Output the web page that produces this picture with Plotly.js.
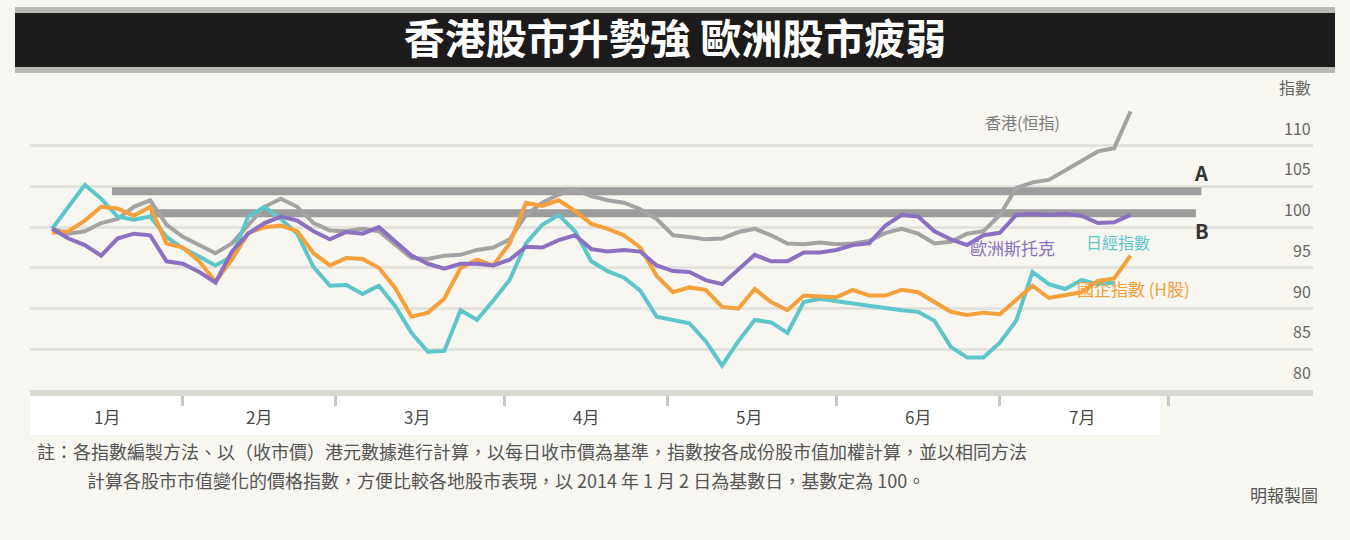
<!DOCTYPE html>
<html>
<head>
<meta charset="utf-8">
<script src="https://cdn.plot.ly/plotly-3.0.1.min.js"></script>
<style>
  html, body { margin: 0; padding: 0; background: #f7f6f1; }
  #chart { width: 1350px; height: 540px; }
</style>
</head>
<body>
<div id="chart"></div>
<script>
const dates = [
  "2014-01-08", "2014-01-11", "2014-01-14", "2014-01-17", "2014-01-20", "2014-01-23", "2014-01-26", "2014-01-29",
  "2014-02-01", "2014-02-04", "2014-02-07", "2014-02-10", "2014-02-13", "2014-02-16", "2014-02-19", "2014-02-22",
  "2014-02-25", "2014-02-28", "2014-03-03", "2014-03-06", "2014-03-09", "2014-03-12", "2014-03-15", "2014-03-18",
  "2014-03-21", "2014-03-24", "2014-03-27", "2014-03-30", "2014-04-02", "2014-04-05", "2014-04-08", "2014-04-11",
  "2014-04-14", "2014-04-17", "2014-04-20", "2014-04-23", "2014-04-26", "2014-04-29", "2014-05-02", "2014-05-05",
  "2014-05-08", "2014-05-11", "2014-05-14", "2014-05-17", "2014-05-20", "2014-05-23", "2014-05-26", "2014-05-29",
  "2014-06-01", "2014-06-04", "2014-06-07", "2014-06-10", "2014-06-13", "2014-06-16", "2014-06-19", "2014-06-22",
  "2014-06-25", "2014-06-28", "2014-07-01", "2014-07-04", "2014-07-07", "2014-07-10", "2014-07-13", "2014-07-16",
  "2014-07-19", "2014-07-22", "2014-07-25",
];

// 香港 (grey)
const hkValues = [
  99.8, 99.2, 99.5, 100.5, 101.0, 102.5, 103.3, 100.3,
  98.8, 97.8, 96.8, 98.0, 100.3, 102.5, 103.5, 102.5,
  100.5, 99.6, 99.5, 99.8, 99.5, 97.8, 96.2, 96.1,
  96.5, 96.6, 97.2, 97.5, 98.5, 101.5, 103.0, 104.0,
  104.6, 103.8, 103.3, 103.0, 102.2, 101.0, 99.0, 98.8,
  98.5, 98.6, 99.4, 99.8, 99.0, 98.0, 97.9, 98.1,
  97.9, 98.0, 98.3, 99.3, 99.8, 99.2, 98.0, 98.2,
  99.2, 99.5, 101.5, 104.8, 105.5, 105.8, 107.0, 108.2,
  109.3, 109.7, 114.2,
];

// 歐洲 (purple)
const euroValues = [
  99.8, 98.6, 97.8, 96.5, 98.6, 99.2, 99.0, 95.8,
  95.5, 94.5, 93.2, 97.0, 99.2, 100.5, 101.3, 100.8,
  99.5, 98.5, 99.4, 99.2, 100.0, 98.3, 96.5, 95.5,
  94.9, 95.5, 95.5, 95.3, 96.0, 97.6, 97.5, 98.4,
  99.0, 97.3, 97.0, 97.2, 97.0, 95.3, 94.6, 94.5,
  93.5, 93.0, 94.8, 96.6, 95.8, 95.8, 96.9, 96.9,
  97.2, 97.8, 98.0, 100.2, 101.5, 101.3, 99.5, 98.5,
  97.8, 99.0, 99.3, 101.5, 101.6, 101.5, 101.6, 101.4,
  100.5, 100.6, 101.5,
];

// 日本 (teal)
const japanValues = [
  99.8, 102.5, 105.2, 103.5, 101.3, 100.9, 101.3, 98.8,
  97.4, 96.4, 95.3, 96.4, 101.3, 102.5, 101.0, 99.2,
  95.1, 92.8, 92.9, 91.8, 92.8, 90.3, 87.0, 84.7,
  84.8, 89.8, 88.6, 91.0, 93.5, 98.0, 100.3, 101.5,
  99.5, 95.8, 94.6, 93.8, 92.2, 89.0, 88.6, 88.2,
  86.0, 83.0, 86.0, 88.6, 88.3, 87.0, 90.8, 91.2,
  90.9, 90.6, 90.4, 90.0, 89.8, 89.6, 88.5, 85.3,
  84.0, 84.0, 85.8, 88.5, 94.5, 93.0, 92.4, 93.5,
  93.0, 93.2, null,
];

// 國企 (orange)
const hshareValues = [
  99.3, 99.5, 100.8, 102.5, 102.3, 101.4, 102.5, 98.0,
  97.5, 95.8, 93.3, 96.0, 99.3, 100.0, 100.2, 99.5,
  96.8, 95.3, 96.2, 96.1, 95.0, 92.5, 89.0, 89.5,
  91.2, 95.0, 96.0, 95.3, 98.0, 103.0, 102.6, 103.3,
  102.0, 100.4, 99.8, 99.0, 97.5, 94.0, 92.0, 92.6,
  92.3, 90.2, 90.0, 92.4, 90.8, 89.8, 91.6, 91.5,
  91.4, 92.3, 91.6, 91.6, 92.3, 92.0, 90.8, 89.6,
  89.2, 89.5, 89.3, 91.0, 92.8, 91.3, 91.6, 92.0,
  93.4, 93.7, 96.5,
];

// the two flat grey levels
const levelADates = ["2014-01-19", "2014-08-07"];
const levelAValues = [104.4, 104.4];
const levelBDates = ["2014-01-26", "2014-08-06"];
const levelBValues = [101.7, 101.7];

const monthStarts = ["2014-02-01", "2014-03-01", "2014-04-01", "2014-05-01", "2014-06-01", "2014-07-01", "2014-08-01"];
const monthMids = ["2014-01-18", "2014-02-15", "2014-03-16", "2014-04-16", "2014-05-16", "2014-06-16", "2014-07-16"];
const monthNames = ["1月", "2月", "3月", "4月", "5月", "6月", "7月"];

const yTickVals = [115, 110, 105, 100, 95, 90, 85, 80];
const yTickText = ["指數", "110", "105", "100", "95", "90", "85", "80"];

const FONT = "'Noto Sans CJK TC', 'Noto Sans CJK SC', 'Noto Sans', sans-serif";
const COL = {
  hk: "#a3a3a3",
  euro: "#8b6fc0",
  japan: "#5ec6c8",
  hshare: "#f5a03a",
  level: "#9c9c9c",
  text: "#666666",
};

function series(y, color, name) {
  return {
    x: dates, y, type: "scatter", mode: "lines", name,
    line: { color, width: 4 }, connectgaps: false, hoverinfo: "skip",
  };
}

const traces = [
  { x: levelADates, y: levelAValues, type: "scatter", mode: "lines", line: { color: COL.level, width: 8 }, hoverinfo: "skip" },
  { x: levelBDates, y: levelBValues, type: "scatter", mode: "lines", line: { color: COL.level, width: 8 }, hoverinfo: "skip" },
  series(hkValues, COL.hk, "香港"),
  series(japanValues, COL.japan, "日本"),
  series(hshareValues, COL.hshare, "國企"),
  series(euroValues, COL.euro, "歐洲"),
];

// plot area: x 30..1313 px, y 105..390 px
const px = (p) => (p - 30) / 1283;
const py = (p) => (390 - p) / 285;

const annotations = [];
yTickVals.forEach((v, i) => {
  annotations.push({
    xref: "paper", yref: "y", x: 1, y: v, xanchor: "right", yanchor: "bottom", yshift: 4,
    text: yTickText[i], showarrow: false, font: { family: FONT, size: 16, color: COL.text },
  });
});
monthMids.forEach((d, i) => {
  annotations.push({
    xref: "x", yref: "paper", x: d, y: py(416), yanchor: "middle",
    text: monthNames[i], showarrow: false, font: { family: FONT, size: 17, color: "#4a4a4a" },
  });
});
annotations.push(
  { xref: "paper", yref: "paper", x: px(1062), y: py(108), text: "香港(恒指)", showarrow: false,
    font: { family: FONT, size: 16, color: "#7d7d7d" } },
  { xref: "paper", yref: "paper", x: px(1057), y: py(247), text: "歐洲斯托克", showarrow: false,
    font: { family: FONT, size: 17, color: COL.euro } },
  { xref: "paper", yref: "paper", x: px(1152), y: py(242), text: "日經指數", showarrow: false,
    font: { family: FONT, size: 16, color: COL.japan } },
  { xref: "paper", yref: "paper", x: px(1192), y: py(288), text: "國企指數 (H股)", showarrow: false,
    font: { family: FONT, size: 17, color: COL.hshare } },
  { xref: "x", yref: "y", x: levelADates[1], y: levelAValues[0], xanchor: "center", yanchor: "bottom", yshift: 2,
    text: "<b>A</b>", showarrow: false, font: { family: FONT, size: 20, color: "#333" } },
  { xref: "x", yref: "y", x: levelBDates[1], y: levelBValues[0], xanchor: "center", yanchor: "top", yshift: -1, xshift: 6,
    text: "<b>B</b>", showarrow: false, font: { family: FONT, size: 20, color: "#333" } },
  { xref: "paper", yref: "paper", x: px(35), y: py(466), xanchor: "left",
    text: "註：各指數編製方法、以（收市價）港元數據進行計算，以每日收市價為基準，指數按各成份股市值加權計算，並以相同方法",
    showarrow: false, font: { family: FONT, size: 18, color: "#555" } },
  { xref: "paper", yref: "paper", x: px(85), y: py(495), xanchor: "left",
    text: "計算各股市市值變化的價格指數，方便比較各地股市表現，以 2014 年 1 月 2 日為基數日，基數定為 100。",
    showarrow: false, font: { family: FONT, size: 18, color: "#555" } },
  { xref: "paper", yref: "paper", x: px(1320), y: py(509), xanchor: "right",
    text: "明報製圖", showarrow: false, font: { family: FONT, size: 17, color: "#555" } },
);

const layout = {
  width: 1350,
  height: 540,
  margin: { l: 30, r: 37, t: 105, b: 150 },
  paper_bgcolor: "#f7f6f1",
  plot_bgcolor: "#f7f6f1",
  showlegend: false,
  title: {
    text: "<b>香港股市升勢強 歐洲股市疲弱</b>",
    font: { family: FONT, size: 41, color: "#ffffff" },
    x: 0.5, xanchor: "center", y: 1 - 40 / 540, yanchor: "middle", yref: "container",
  },
  xaxis: {
    type: "date",
    range: ["2014-01-03 22:30", "2014-08-27 12:00"],
    tickvals: monthStarts,
    ticks: "outside", ticklen: 10, tickwidth: 3, tickcolor: "#c9c7c2",
    showticklabels: false,
    showgrid: false, zeroline: false,
    showline: true, linecolor: "#dad8d3", linewidth: 6,
    fixedrange: true,
  },
  yaxis: {
    range: [80, 115],
    dtick: 5, tick0: 80,
    showticklabels: false,
    showgrid: true, gridcolor: "#e4e2dd", gridwidth: 3,
    zeroline: false, showline: false, ticks: "",
    fixedrange: true,
  },
  shapes: [
    // title bar with grey rims
    { type: "rect", xref: "paper", yref: "paper", x0: px(15), x1: px(1335), y0: py(73), y1: py(7),
      fillcolor: "#bab8b4", line: { width: 0 }, layer: "below" },
    { type: "rect", xref: "paper", yref: "paper", x0: px(15), x1: px(1335), y0: py(67), y1: py(13),
      fillcolor: "#1d1b1b", line: { width: 0 }, layer: "below" },
    // white strip under the axis for month names
    { type: "rect", xref: "paper", yref: "paper", x0: px(30), x1: px(1160), y0: py(435), y1: py(394),
      fillcolor: "#ffffff", line: { width: 0 }, layer: "below" },
  ],
  annotations,
};

Plotly.newPlot("chart", traces, layout, { staticPlot: true, displayModeBar: false });
</script>
</body>
</html>
